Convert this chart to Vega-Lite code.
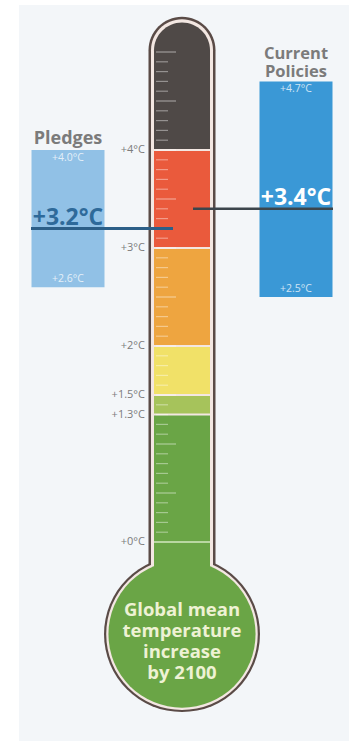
{
  "$schema": "https://vega.github.io/schema/vega-lite/v6.json",
  "width": 330,
  "height": 736,
  "autosize": {"type": "none"},
  "padding": {"left": 19, "top": 5, "right": 0, "bottom": 0},
  "background": "#ffffff",
  "config": {
    "view": {"fill": "#f3f6f9", "stroke": null},
    "font": "Open Sans",
    "text": {"font": "Open Sans"}
  },
  "datasets": {
    "thermo": [
      {"part": "Thermometer", "top": 5.36, "bulb": -0.94, "caption": "Global mean\ntemperature\nincrease\nby 2100"}
    ],
    "bands": [
      {"band": "above 4", "from": 4.01, "to": 5.30},
      {"band": "3 to 4", "from": 3.01, "to": 3.99},
      {"band": "2 to 3", "from": 2.01, "to": 2.99},
      {"band": "1.5 to 2", "from": 1.51, "to": 1.99},
      {"band": "1.3 to 1.5", "from": 1.31, "to": 1.49},
      {"band": "below 1.3", "from": -0.94, "to": 1.29}
    ],
    "levels": [
      {"t": 4, "label": "+4°C"},
      {"t": 3, "label": "+3°C"},
      {"t": 2, "label": "+2°C"},
      {"t": 1.5, "label": "+1.5°C"},
      {"t": 1.3, "label": "+1.3°C"},
      {"t": 0, "label": "+0°C"}
    ],
    "ticks": [
      {"t": 0.1, "kind": "minor"}, {"t": 0.2, "kind": "minor"}, {"t": 0.3, "kind": "minor"}, {"t": 0.4, "kind": "minor"}, {"t": 0.5, "kind": "half"},
      {"t": 0.6, "kind": "minor"}, {"t": 0.7, "kind": "minor"}, {"t": 0.8, "kind": "minor"}, {"t": 0.9, "kind": "minor"}, {"t": 1.0, "kind": "half"},
      {"t": 1.1, "kind": "minor"}, {"t": 1.2, "kind": "minor"}, {"t": 1.3, "kind": "minor"}, {"t": 1.4, "kind": "minor"}, {"t": 1.5, "kind": "half"},
      {"t": 1.6, "kind": "minor"}, {"t": 1.7, "kind": "minor"}, {"t": 1.8, "kind": "minor"}, {"t": 1.9, "kind": "minor"}, {"t": 2.0, "kind": "half"},
      {"t": 2.1, "kind": "minor"}, {"t": 2.2, "kind": "minor"}, {"t": 2.3, "kind": "minor"}, {"t": 2.4, "kind": "minor"}, {"t": 2.5, "kind": "half"},
      {"t": 2.6, "kind": "minor"}, {"t": 2.7, "kind": "minor"}, {"t": 2.8, "kind": "minor"}, {"t": 2.9, "kind": "minor"}, {"t": 3.0, "kind": "half"},
      {"t": 3.1, "kind": "minor"}, {"t": 3.2, "kind": "minor"}, {"t": 3.3, "kind": "minor"}, {"t": 3.4, "kind": "minor"}, {"t": 3.5, "kind": "half"},
      {"t": 3.6, "kind": "minor"}, {"t": 3.7, "kind": "minor"}, {"t": 3.8, "kind": "minor"}, {"t": 3.9, "kind": "minor"}, {"t": 4.0, "kind": "half"},
      {"t": 4.1, "kind": "minor"}, {"t": 4.2, "kind": "minor"}, {"t": 4.3, "kind": "minor"}, {"t": 4.4, "kind": "minor"}, {"t": 4.5, "kind": "half"},
      {"t": 4.6, "kind": "minor"}, {"t": 4.7, "kind": "minor"}, {"t": 4.8, "kind": "minor"}, {"t": 4.9, "kind": "minor"}, {"t": 5.0, "kind": "half"}
    ],
    "scenarios": [
      {"scenario": "Pledges", "high": 4.0, "low": 2.6, "mid": 3.2, "highLabel": "+4.0°C", "lowLabel": "+2.6°C", "midLabel": "+3.2°C", "title": "Pledges"},
      {"scenario": "Current Policies", "high": 4.7, "low": 2.5, "mid": 3.4, "highLabel": "+4.7°C", "lowLabel": "+2.5°C", "midLabel": "+3.4°C", "title": "Current\nPolicies"}
    ]
  },
  "resolve": {"scale": {"color": "independent"}},
  "layer": [
    {
      "data": {"name": "thermo"},
      "mark": {"type": "point", "shape": "circle", "filled": true, "size": 24328, "opacity": 1, "color": "#5a4b47"},
      "encoding": {
        "x": {"field": "part", "type": "nominal", "axis": null,
              "scale": {"type": "band", "domain": ["Pledges", "Thermometer", "Current Policies"], "range": [-8, 334], "paddingInner": 0, "paddingOuter": 0}},
        "y": {"field": "bulb", "type": "quantitative", "axis": null,
              "scale": {"domain": [-2.0306, 5.4796], "nice": false, "zero": false}}
      }
    },
    {
      "data": {"name": "thermo"},
      "mark": {"type": "bar", "width": 67, "cornerRadiusTopLeft": 33.5, "cornerRadiusTopRight": 33.5, "color": "#5a4b47"},
      "encoding": {
        "x": {"field": "part", "type": "nominal"},
        "y": {"field": "top", "type": "quantitative"},
        "y2": {"field": "bulb"}
      }
    },
    {
      "data": {"name": "thermo"},
      "mark": {"type": "point", "shape": "circle", "filled": true, "size": 22966, "opacity": 1, "color": "#f3e7e2"},
      "encoding": {
        "x": {"field": "part", "type": "nominal"},
        "y": {"field": "bulb", "type": "quantitative"}
      }
    },
    {
      "data": {"name": "thermo"},
      "mark": {"type": "bar", "width": 62, "cornerRadiusTopLeft": 31, "cornerRadiusTopRight": 31, "yOffset": 2.5, "color": "#f3e7e2"},
      "encoding": {
        "x": {"field": "part", "type": "nominal"},
        "y": {"field": "top", "type": "quantitative"},
        "y2": {"field": "bulb"}
      }
    },
    {
      "data": {"name": "thermo"},
      "mark": {"type": "point", "shape": "circle", "filled": true, "size": 21642, "opacity": 1, "color": "#6aa546"},
      "encoding": {
        "x": {"field": "part", "type": "nominal"},
        "y": {"field": "bulb", "type": "quantitative"}
      }
    },
    {
      "data": {"name": "bands"},
      "transform": [{"filter": "datum.band === 'above 4'"}],
      "mark": {"type": "bar", "width": 56, "cornerRadiusTopLeft": 28, "cornerRadiusTopRight": 28, "color": "#4f4947"},
      "encoding": {
        "x": {"datum": "Thermometer"},
        "y": {"field": "to", "type": "quantitative"},
        "y2": {"field": "from"}
      }
    },
    {
      "data": {"name": "bands"},
      "transform": [{"filter": "datum.band !== 'above 4'"}],
      "mark": {"type": "bar", "width": 56},
      "encoding": {
        "x": {"datum": "Thermometer"},
        "y": {"field": "to", "type": "quantitative"},
        "y2": {"field": "from"},
        "color": {"field": "band", "type": "nominal", "legend": null,
                  "scale": {"domain": ["3 to 4", "2 to 3", "1.5 to 2", "1.3 to 1.5", "below 1.3"],
                            "range": ["#ea5a3c", "#eea540", "#f1e168", "#a6c35b", "#6aa546"]}}
      }
    },
    {
      "data": {"name": "ticks"},
      "transform": [{"filter": "datum.kind === 'minor'"}],
      "mark": {"type": "tick", "size": 12, "thickness": 1.2, "xOffset": -20, "color": "#ffffff", "opacity": 0.4},
      "encoding": {
        "x": {"datum": "Thermometer"},
        "y": {"field": "t", "type": "quantitative"}
      }
    },
    {
      "data": {"name": "ticks"},
      "transform": [{"filter": "datum.kind === 'half'"}],
      "mark": {"type": "tick", "size": 20, "thickness": 1.2, "xOffset": -16, "color": "#ffffff", "opacity": 0.45},
      "encoding": {
        "x": {"datum": "Thermometer"},
        "y": {"field": "t", "type": "quantitative"}
      }
    },
    {
      "data": {"name": "levels"},
      "transform": [{"filter": "datum.t === 0"}],
      "mark": {"type": "tick", "size": 56, "thickness": 2, "color": "#dcecc8"},
      "encoding": {
        "x": {"datum": "Thermometer"},
        "y": {"field": "t", "type": "quantitative"}
      }
    },
    {
      "data": {"name": "levels"},
      "mark": {"type": "text", "align": "right", "baseline": "middle", "xOffset": -37, "fontSize": 11, "color": "#7c7c7c"},
      "encoding": {
        "x": {"datum": "Thermometer"},
        "y": {"field": "t", "type": "quantitative"},
        "text": {"field": "label"}
      }
    },
    {
      "data": {"name": "thermo"},
      "mark": {"type": "text", "align": "center", "baseline": "middle", "lineBreak": "\n", "lineHeight": 21, "yOffset": -24, "fontSize": 18.5, "fontWeight": "bold", "color": "#eef2d4"},
      "encoding": {
        "x": {"field": "part", "type": "nominal"},
        "y": {"field": "bulb", "type": "quantitative"},
        "text": {"field": "caption"}
      }
    },
    {
      "data": {"name": "scenarios"},
      "mark": {"type": "bar", "width": 73},
      "encoding": {
        "x": {"field": "scenario", "type": "nominal"},
        "y": {"field": "high", "type": "quantitative"},
        "y2": {"field": "low"},
        "color": {"field": "scenario", "type": "nominal", "legend": null,
                  "scale": {"domain": ["Pledges", "Current Policies"], "range": ["#91c1e6", "#3a98d6"]}}
      }
    },
    {
      "data": {"name": "scenarios"},
      "mark": {"type": "text", "align": "center", "baseline": "middle", "yOffset": 8, "fontSize": 10.5, "color": "#ffffff", "opacity": 0.75},
      "encoding": {
        "x": {"field": "scenario", "type": "nominal"},
        "y": {"field": "high", "type": "quantitative"},
        "text": {"field": "highLabel"}
      }
    },
    {
      "data": {"name": "scenarios"},
      "mark": {"type": "text", "align": "center", "baseline": "middle", "yOffset": -8, "fontSize": 10.5, "color": "#ffffff", "opacity": 0.75},
      "encoding": {
        "x": {"field": "scenario", "type": "nominal"},
        "y": {"field": "low", "type": "quantitative"},
        "text": {"field": "lowLabel"}
      }
    },
    {
      "data": {"name": "scenarios"},
      "transform": [{"filter": "datum.scenario === 'Pledges'"}],
      "mark": {"type": "text", "align": "center", "baseline": "alphabetic", "yOffset": -6, "fontSize": 18, "fontWeight": "bold", "color": "#7b7b7b"},
      "encoding": {
        "x": {"field": "scenario", "type": "nominal"},
        "y": {"field": "high", "type": "quantitative"},
        "text": {"field": "title"}
      }
    },
    {
      "data": {"name": "scenarios"},
      "transform": [{"filter": "datum.scenario === 'Current Policies'"}],
      "mark": {"type": "text", "align": "center", "baseline": "alphabetic", "lineBreak": "\n", "lineHeight": 18, "yOffset": -22, "fontSize": 16.5, "fontWeight": "bold", "color": "#7b7b7b"},
      "encoding": {
        "x": {"field": "scenario", "type": "nominal"},
        "y": {"field": "high", "type": "quantitative"},
        "text": {"field": "title"}
      }
    },
    {
      "data": {"name": "scenarios"},
      "transform": [{"filter": "datum.scenario === 'Pledges'"}],
      "mark": {"type": "rule", "strokeWidth": 3, "color": "#2c5f88", "xOffset": -37, "x2Offset": -9},
      "encoding": {
        "x": {"field": "scenario", "type": "nominal"},
        "x2": {"datum": "Thermometer"},
        "y": {"field": "mid", "type": "quantitative"}
      }
    },
    {
      "data": {"name": "scenarios"},
      "transform": [{"filter": "datum.scenario === 'Current Policies'"}],
      "mark": {"type": "rule", "strokeWidth": 2.5, "color": "#3c454c", "xOffset": 37, "x2Offset": 11},
      "encoding": {
        "x": {"field": "scenario", "type": "nominal"},
        "x2": {"datum": "Thermometer"},
        "y": {"field": "mid", "type": "quantitative"}
      }
    },
    {
      "data": {"name": "scenarios"},
      "transform": [{"filter": "datum.scenario === 'Pledges'"}],
      "mark": {"type": "text", "align": "center", "baseline": "alphabetic", "yOffset": -3, "fontSize": 23, "fontWeight": "bold", "color": "#2e6a9a"},
      "encoding": {
        "x": {"field": "scenario", "type": "nominal"},
        "y": {"field": "mid", "type": "quantitative"},
        "text": {"field": "midLabel"}
      }
    },
    {
      "data": {"name": "scenarios"},
      "transform": [{"filter": "datum.scenario === 'Current Policies'"}],
      "mark": {"type": "text", "align": "center", "baseline": "alphabetic", "yOffset": -4, "fontSize": 23, "fontWeight": "bold", "color": "#ffffff"},
      "encoding": {
        "x": {"field": "scenario", "type": "nominal"},
        "y": {"field": "mid", "type": "quantitative"},
        "text": {"field": "midLabel"}
      }
    }
  ]
}
